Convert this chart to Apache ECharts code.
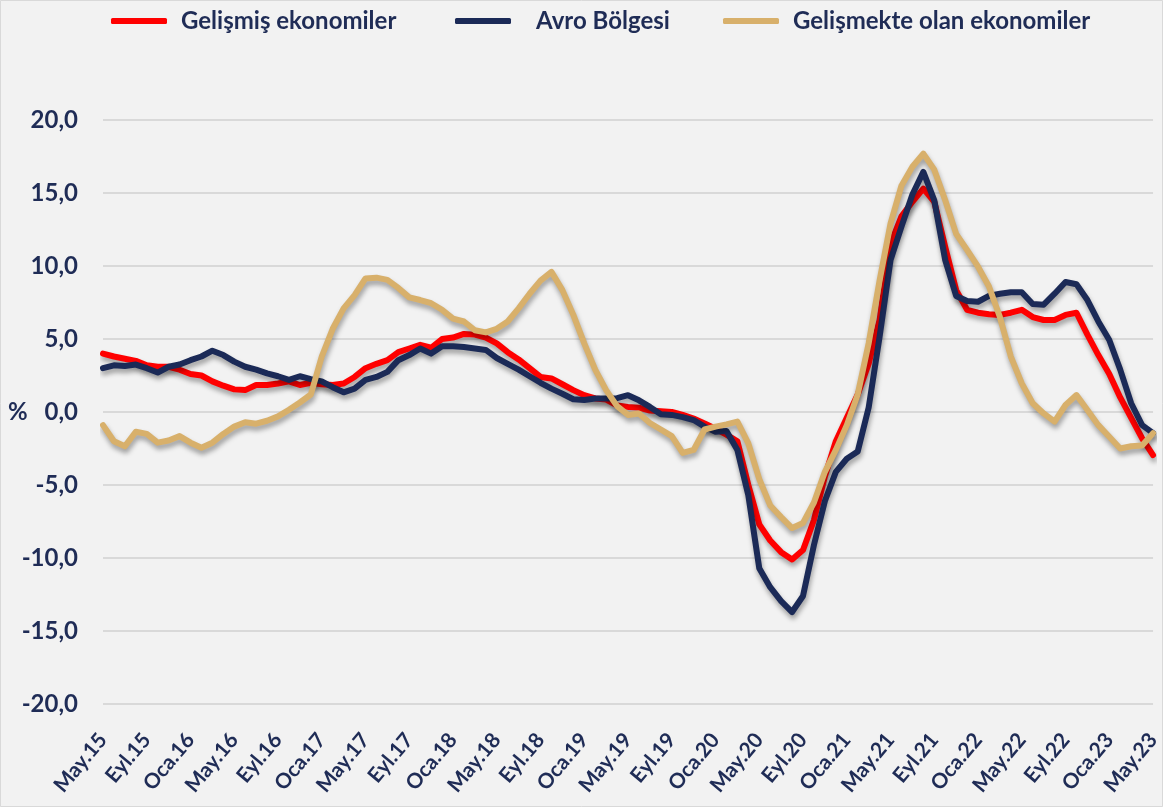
<!DOCTYPE html>
<html>
<head>
<meta charset="utf-8">
<title>Sanayi üretimi</title>
<script src="https://cdn.jsdelivr.net/npm/echarts@6/dist/echarts.min.js"></script>
<style>
    html, body { margin: 0; padding: 0; background: #f2f2f2; }
    #chart { width: 1163px; height: 807px; }
</style>
</head>
<body>
<div id="chart"></div>
<script>
// aylar (May.15 - May.23)
var aylar = [
    'May.15', 'Haz.15', 'Tem.15', 'Ağu.15', 'Eyl.15', 'Eki.15', 'Kas.15', 'Ara.15',
    'Oca.16', 'Şub.16', 'Mar.16', 'Nis.16', 'May.16', 'Haz.16', 'Tem.16', 'Ağu.16', 'Eyl.16', 'Eki.16', 'Kas.16', 'Ara.16',
    'Oca.17', 'Şub.17', 'Mar.17', 'Nis.17', 'May.17', 'Haz.17', 'Tem.17', 'Ağu.17', 'Eyl.17', 'Eki.17', 'Kas.17', 'Ara.17',
    'Oca.18', 'Şub.18', 'Mar.18', 'Nis.18', 'May.18', 'Haz.18', 'Tem.18', 'Ağu.18', 'Eyl.18', 'Eki.18', 'Kas.18', 'Ara.18',
    'Oca.19', 'Şub.19', 'Mar.19', 'Nis.19', 'May.19', 'Haz.19', 'Tem.19', 'Ağu.19', 'Eyl.19', 'Eki.19', 'Kas.19', 'Ara.19',
    'Oca.20', 'Şub.20', 'Mar.20', 'Nis.20', 'May.20', 'Haz.20', 'Tem.20', 'Ağu.20', 'Eyl.20', 'Eki.20', 'Kas.20', 'Ara.20',
    'Oca.21', 'Şub.21', 'Mar.21', 'Nis.21', 'May.21', 'Haz.21', 'Tem.21', 'Ağu.21', 'Eyl.21', 'Eki.21', 'Kas.21', 'Ara.21',
    'Oca.22', 'Şub.22', 'Mar.22', 'Nis.22', 'May.22', 'Haz.22', 'Tem.22', 'Ağu.22', 'Eyl.22', 'Eki.22', 'Kas.22', 'Ara.22',
    'Oca.23', 'Şub.23', 'Mar.23', 'Nis.23', 'May.23'
];

// Gelişmiş ekonomiler
var gelismis = [
    4.0, 3.8, 3.65, 3.5, 3.2, 3.1, 3.1, 2.9, 2.6, 2.5, 2.1, 1.8,
    1.55, 1.5, 1.85, 1.85, 1.95, 2.1, 1.85, 2.0, 1.9, 1.85, 1.95, 2.4,
    3.0, 3.3, 3.55, 4.1, 4.35, 4.6, 4.4, 5.0, 5.1, 5.35, 5.3, 5.1,
    4.7, 4.1, 3.6, 3.0, 2.4, 2.3, 1.9, 1.5, 1.15, 0.93, 0.85, 0.45,
    0.35, 0.3, 0.1, 0.05, 0.0, -0.2, -0.45, -0.78, -1.15, -1.55, -2.0, -5.0,
    -7.7, -8.8, -9.6, -10.1, -9.45, -7.4, -4.4, -2.0, -0.4, 1.2, 3.3, 6.3,
    11.5, 13.4, 14.4, 15.3, 14.4, 11.3, 8.35, 7.0, 6.8, 6.7, 6.65, 6.8,
    7.0, 6.5, 6.3, 6.3, 6.65, 6.8, 5.3, 3.9, 2.6, 1.0, -0.4, -1.8,
    -2.95
];

// Avro Bölgesi
var avro = [
    3.0, 3.2, 3.15, 3.25, 3.0, 2.7, 3.1, 3.25, 3.55, 3.8, 4.2, 3.9,
    3.45, 3.1, 2.9, 2.65, 2.45, 2.2, 2.45, 2.25, 2.1, 1.7, 1.35, 1.6,
    2.2, 2.4, 2.75, 3.55, 3.9, 4.35, 4.0, 4.5, 4.5, 4.45, 4.35, 4.25,
    3.7, 3.3, 2.9, 2.45, 2.0, 1.6, 1.25, 0.87, 0.82, 0.93, 0.93, 0.95,
    1.15, 0.8, 0.35, -0.15, -0.2, -0.35, -0.55, -1.0, -1.35, -1.3, -2.6, -5.7,
    -10.7, -12.0, -12.95, -13.7, -12.6, -9.1, -6.1, -4.1, -3.2, -2.7, 0.3, 5.15,
    10.4, 12.7, 14.9, 16.45, 14.5, 10.4, 7.95, 7.6, 7.55, 7.95, 8.1, 8.2,
    8.2, 7.4, 7.35, 8.1, 8.9, 8.75, 7.67, 6.2, 4.93, 2.9, 0.6, -0.9,
    -1.45
];

// Gelişmekte olan ekonomiler
var gelismekte = [
    -0.9, -2.0, -2.35, -1.35, -1.5, -2.1, -1.95, -1.65, -2.1, -2.45, -2.1, -1.5,
    -1.0, -0.7, -0.8, -0.6, -0.3, 0.15, 0.65, 1.2, 3.8, 5.7, 7.1, 8.0,
    9.15, 9.2, 9.05, 8.5, 7.85, 7.67, 7.45, 7.0, 6.4, 6.2, 5.6, 5.45,
    5.7, 6.2, 7.1, 8.1, 9.0, 9.6, 8.35, 6.65, 4.7, 2.9, 1.5, 0.4,
    -0.2, -0.1, -0.75, -1.2, -1.65, -2.8, -2.6, -1.2, -1.0, -0.85, -0.66, -2.15,
    -4.6, -6.4, -7.2, -7.95, -7.6, -6.2, -4.1, -2.6, -0.9, 1.2, 4.7, 9.0,
    12.9, 15.5, 16.8, 17.7, 16.6, 14.5, 12.2, 11.1, 9.95, 8.6, 6.5, 3.8,
    1.96, 0.6, -0.1, -0.66, 0.48, 1.16, 0.14, -0.9, -1.7, -2.5, -2.35, -2.3,
    -1.45
];

// y ekseni
var yMin = -20;
var yMax = 20;
var yAdim = 5;

var chart = {};
chart.yazi = '#1f2c56';
chart.font = 'Lato';

/**
 * tek bir seri
 */
chart.seri = function (ad, veri, renk) {
    return {
        name: ad,
        type: 'line',
        data: veri,
        symbol: 'none',
        smooth: false,
        lineStyle: {
            color: renk,
            width: 6,
            cap: 'round',
            join: 'round',
            shadowColor: 'rgba(0,0,0,0.35)',
            shadowBlur: 5,
            shadowOffsetX: 1,
            shadowOffsetY: 4
        },
        itemStyle: { color: renk },
        emphasis: { disabled: true }
    };
};

/**
 * lejant (her biri ayrı konumda)
 */
chart.lejant = function (ad, sol, bosluk) {
    return {
        data: [ad],
        left: sol,
        top: 4,
        icon: 'roundRect',
        itemWidth: 56,
        itemHeight: 6,
        selectedMode: false,
        textStyle: {
            color: chart.yazi,
            fontFamily: chart.font,
            fontWeight: 'bold',
            fontSize: 24,
            padding: [0, 0, 0, bosluk]
        }
    };
};

chart.init = function () {
    var c = echarts.init(document.getElementById('chart'));
    c.setOption({
        backgroundColor: '#f2f2f2',
        animation: false,
        legend: [
            chart.lejant('Gelişmiş ekonomiler', 106, 9),
            chart.lejant('Avro Bölgesi', 450, 20),
            chart.lejant('Gelişmekte olan ekonomiler', 718, 9)
        ],
        grid: { left: 103, right: 3, top: 120, bottom: 103, containLabel: false },
        xAxis: {
            type: 'category',
            data: aylar,
            boundaryGap: false,
            axisLine: { show: false },
            axisTick: { show: false },
            splitLine: { show: false },
            axisLabel: {
                interval: 3,
                rotate: 50,
                margin: 32,
                color: chart.yazi,
                fontFamily: chart.font,
                fontWeight: 'bold',
                fontSize: 21
            }
        },
        yAxis: {
            type: 'value',
            min: yMin,
            max: yMax,
            interval: yAdim,
            axisLine: { show: false },
            axisTick: { show: false },
            splitLine: { lineStyle: { color: '#d9d9d9', width: 2 } },
            axisLabel: {
                margin: 25,
                color: chart.yazi,
                fontFamily: chart.font,
                fontWeight: 'bold',
                fontSize: 24,
                formatter: function (v) {
                    return v.toFixed(1).replace('.', ',');
                }
            }
        },
        graphic: [
            {
                type: 'rect',
                shape: { x: 0.5, y: 0.5, width: 1162, height: 806 },
                style: { fill: 'none', stroke: '#d9d9d9', lineWidth: 1 },
                silent: true
            },
            {
                type: 'text',
                left: 8,
                top: 400,
                style: {
                    text: '%',
                    fill: chart.yazi,
                    font: 'bold 24px ' + chart.font
                }
            }
        ],
        series: [
            chart.seri('Gelişmiş ekonomiler', gelismis, '#ff0000'),
            chart.seri('Avro Bölgesi', avro, '#1b2a57'),
            chart.seri('Gelişmekte olan ekonomiler', gelismekte, '#d8b06b')
        ]
    });
};

chart.init();
</script>
</body>
</html>
